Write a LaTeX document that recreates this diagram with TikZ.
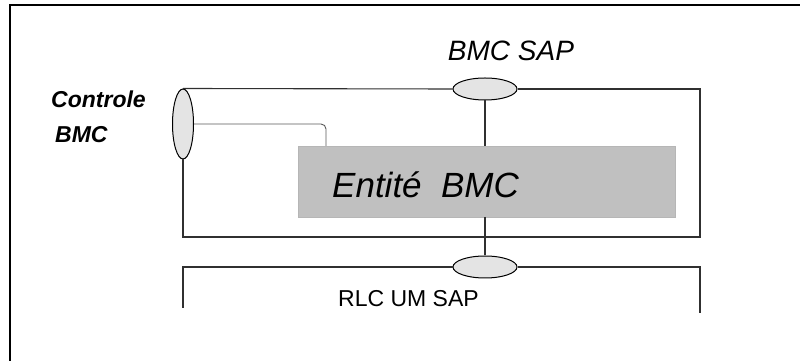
\documentclass[tikz,border=0pt]{standalone}
\usepackage{fontspec}
\setmainfont{Liberation Sans}
\usetikzlibrary{shapes.geometric}
\definecolor{linegray}{HTML}{303030}
\definecolor{sapfill}{HTML}{E4E4E4}
\definecolor{entfill}{HTML}{C0C0C0}
\tikzset{
  frameline/.style={line width=2pt, black},
  wire/.style={line width=1.1pt, draw=linegray},
  thinwire/.style={line width=0.9pt, draw=linegray!80, rounded corners=5pt},
  sapell/.style={ellipse, draw=black, line width=1pt, fill=sapfill, inner sep=0pt},
  entbox/.style={rectangle, fill=entfill, draw=entfill!95!black, line width=0.4pt, inner sep=0pt},
  lbl/.style={inner sep=0pt}
}
\begin{document}
\begin{tikzpicture}[x=1pt,y=1pt]
\useasboundingbox (0,0) rectangle (800,361);
% outer frame (open on right and bottom)
\coordinate (fbl) at (10,0);
\coordinate (ftl) at (10,356);
\coordinate (ftr) at (800,356);
\draw[frameline] (fbl) -- (ftl) -- (ftr);

% nodes
\node[sapell, minimum width=21pt, minimum height=70pt] (ctrl) at (183,237) {};
\node[sapell, minimum width=64pt, minimum height=22pt] (sap1) at (485,272) {};
\node[sapell, minimum width=64pt, minimum height=22pt] (sap2) at (485,94) {};
\node[entbox, minimum width=377pt, minimum height=71pt, anchor=south west] (ent) at (298,144) {};

% labels
\node[lbl, anchor=base west, font=\fontsize{35}{40}\selectfont\itshape] (entlbl) at (332,163) {Entité\ \ BMC};
\node[lbl, anchor=base, font=\fontsize{28}{32}\selectfont\itshape] (saplbl) at (511,300) {BMC SAP};
\node[lbl, anchor=base west, font=\fontsize{23}{23}\selectfont\itshape\bfseries] (ctrllbl1) at (51,253) {Controle};
\node[lbl, anchor=base west, font=\fontsize{23}{23}\selectfont\itshape\bfseries] (ctrllbl2) at (55,218) {BMC};
\node[lbl, anchor=base west, font=\fontsize{23}{26}\selectfont] (rlclbl) at (338,54) {RLC UM SAP};

% helper coordinates
\coordinate (ubr) at (700,124);
\coordinate (lbl) at (183,53);
\coordinate (lbr) at (700,48);
\coordinate (ctap) at (326,215);

% upper box
\draw[wire] (ctrl.north) -- (sap1.west);
\draw[wire] (sap1.east) -| (ubr) -| (ctrl.south);
% SAP verticals
\draw[wire] (sap1.south) -- (sap1.south |- ent.north);
\draw[wire] (sap2.north |- ent.south) -- (sap2.north);
% lower box
\draw[wire] (sap2.west) -| (lbl);
\draw[wire] (sap2.east) -| (lbr);
% control link
\draw[thinwire] (ctrl.east) -| (ctap);
\end{tikzpicture}
\end{document}
